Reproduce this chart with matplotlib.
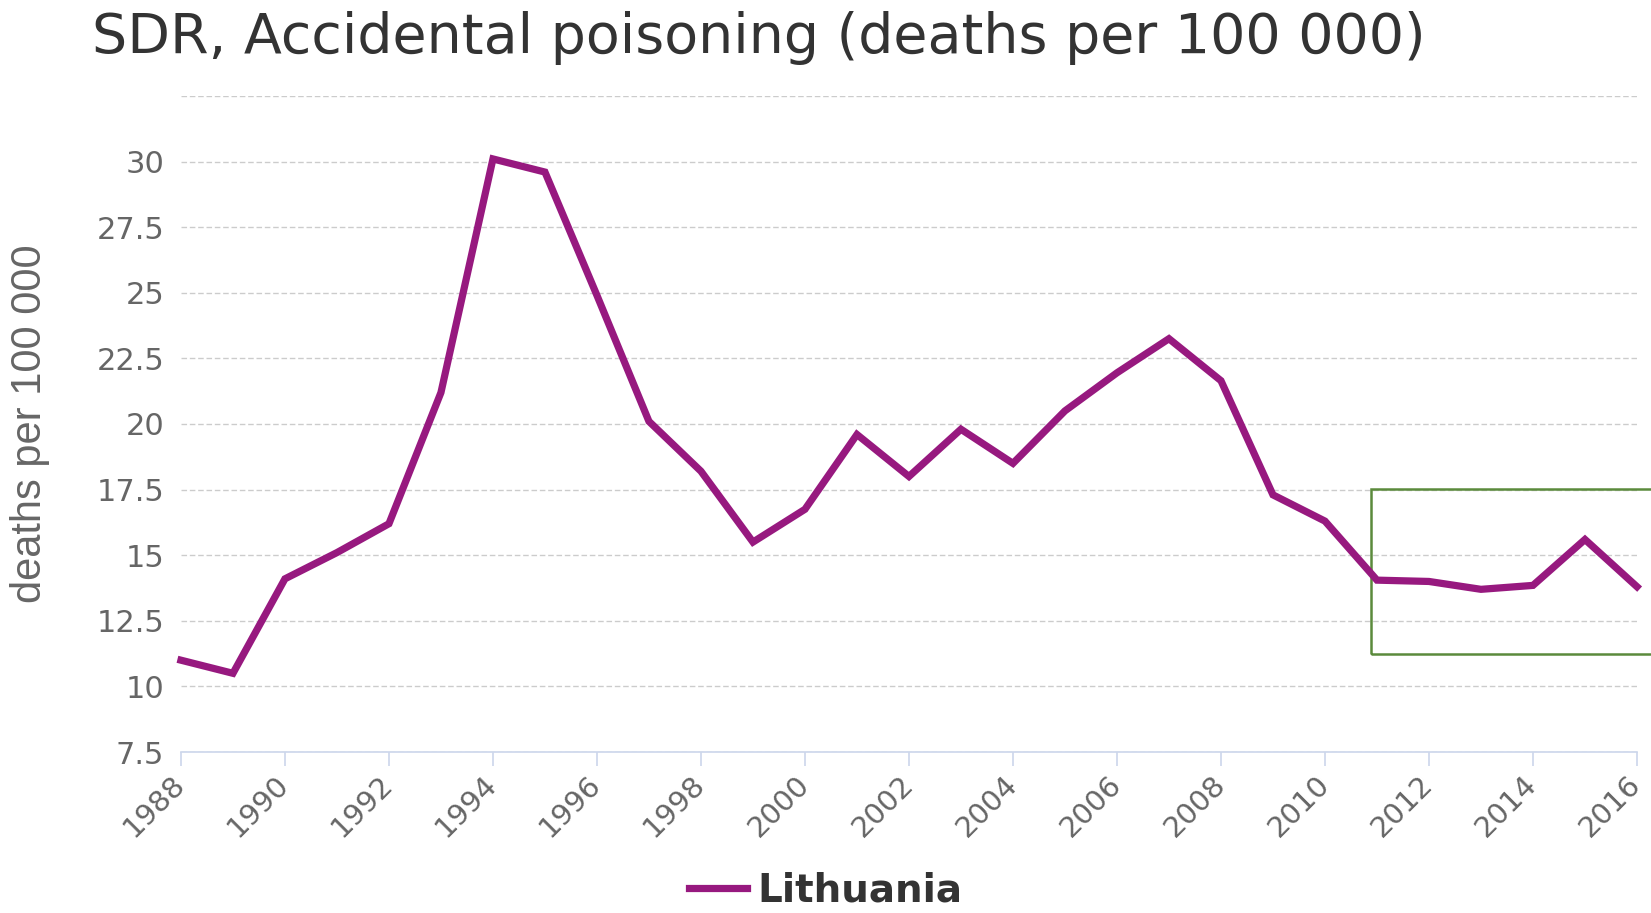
import matplotlib
matplotlib.use("Agg")
import matplotlib.pyplot as plt
from matplotlib.patches import Rectangle

years = list(range(1988, 2017))
lithuania = [11.0, 10.5, 14.1, 15.1, 16.2, 21.2, 30.1, 29.6, 24.9, 20.1, 18.2, 15.5,
             16.75, 19.6, 18.0, 19.8, 18.5, 20.5, 21.95, 23.25, 21.65, 17.3, 16.3,
             14.05, 14.0, 13.7, 13.85, 15.6, 13.8]
y_ticks = [7.5, 10, 12.5, 15, 17.5, 20, 22.5, 25, 27.5, 30, 32.5]
y_labels = ["7.5", "10", "12.5", "15", "17.5", "20", "22.5", "25", "27.5", "30", ""]
x_ticks = list(range(1988, 2017, 2))

purple = "#97197f"
grey_text = "#666666"

plt.rcParams['font.family'] = ['DejaVu Sans']

fig = plt.figure(figsize=(16.51, 9.13), dpi=100)
ax = fig.add_axes([0.1096, 0.1763, 0.8819, 0.7186])

ax.plot(years, lithuania, color=purple, linewidth=5.2, solid_joinstyle='miter',
        label="Lithuania", clip_on=False)

ax.set_xlim(1988, 2016)
ax.set_ylim(7.5, 32.5)
ax.set_yticks(y_ticks)
ax.set_yticklabels(y_labels)
ax.set_xticks(x_ticks)
ax.set_xticklabels([str(x) for x in x_ticks], rotation=45, ha='right', va='center',
                   rotation_mode='anchor')

ax.grid(axis='y', color='#cccccc', linestyle=(0, (4, 2)), linewidth=1)
ax.set_axisbelow(True)
for s in ['top', 'right', 'left']:
    ax.spines[s].set_visible(False)
ax.spines['bottom'].set_color('#ccd6eb')
ax.spines['bottom'].set_linewidth(1.2)

ax.tick_params(axis='y', length=0, labelsize=22, labelcolor=grey_text, pad=12)
ax.tick_params(axis='x', length=10, color='#ccd6eb', width=1.2,
               labelsize=21, labelcolor=grey_text, pad=10)

ax.set_ylabel("deaths per 100 000", fontsize=30, color=grey_text,
              family=['Liberation Sans', 'DejaVu Sans'])
ax.yaxis.set_label_coords(-0.09, 0.5)

# highlight box
rect = Rectangle((2010.88, 11.23), 6.5, 6.29, fill=False, edgecolor='#5b8a3c',
                 linewidth=1.8, clip_on=False)
ax.add_patch(rect)

fig.text(0.056, 0.942, "SDR, Accidental poisoning (deaths per 100 000)",
         fontsize=40, color='#333333', ha='left', va='baseline')

fig.legend(loc='lower center', bbox_to_anchor=(0.5, -0.035), frameon=False,
           handlelength=1.5, handletextpad=0.25,
           prop={'size': 28, 'weight': 'bold'}, labelcolor='#333333')

fig.savefig("out.png", dpi=100)
